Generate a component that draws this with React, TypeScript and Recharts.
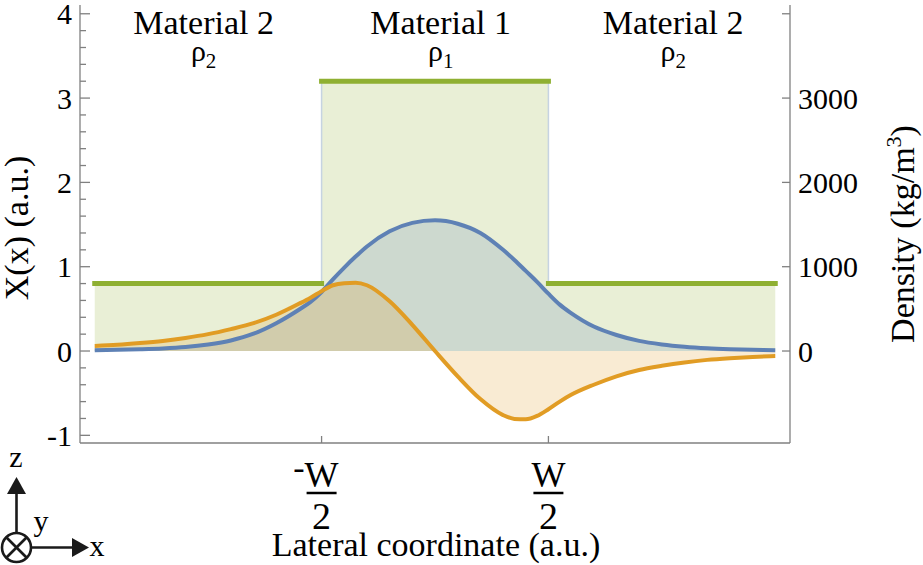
import React from "react";
import { ComposedChart, Area, Line, XAxis, YAxis } from "recharts";

// ---------- data ----------
const lateralPos = [
  -1.5, -1.4, -1.3, -1.2, -1.1, -1.0, -0.9, -0.8, -0.7, -0.6, -0.55, -0.5, -0.45, -0.4, -0.35, -0.3, -0.2, -0.1,
  0.0, 0.1, 0.2, 0.3, 0.35, 0.4, 0.45, 0.5, 0.55, 0.6, 0.7, 0.8, 0.9, 1.0, 1.1, 1.2, 1.3, 1.4, 1.5,
];
const modeBlue = [
  0.01, 0.014, 0.021, 0.031, 0.048, 0.078, 0.125, 0.205, 0.33, 0.49, 0.58, 0.7, 0.85, 0.99, 1.12, 1.24, 1.42, 1.52,
  1.55, 1.51, 1.4, 1.2, 1.08, 0.95, 0.82, 0.68, 0.55, 0.45, 0.29, 0.19, 0.12, 0.078, 0.05, 0.032, 0.021, 0.014, 0.01,
];
const modeOrange = [
  0.06, 0.073, 0.094, 0.12, 0.155, 0.2, 0.26, 0.33, 0.43, 0.56, 0.63, 0.71, 0.78, 0.805, 0.81, 0.78, 0.59, 0.31,
  0.0, -0.3, -0.57, -0.76, -0.805, -0.81, -0.77, -0.69, -0.6, -0.52, -0.4, -0.3, -0.225, -0.175, -0.135, -0.105, -0.085, -0.07, -0.06,
];

// density regions (material 2 | material 1 | material 2)
const regionBounds = [-1.5, -0.5, 0.5, 1.5];
const regionDensity = [800, 3200, 800];
const materialNames = ["Material 2", "Material 1", "Material 2"];
const materialSymbolSub = ["2", "1", "2"];
const materialLabelPos = [-1.02, 0.025, 1.05];

const leftTicks = [
  -1, -0.8, -0.6, -0.4, -0.2, 0, 0.2, 0.4, 0.6, 0.8, 1, 1.2, 1.4, 1.6, 1.8, 2, 2.2, 2.4, 2.6, 2.8, 3, 3.2, 3.4,
  3.6, 3.8, 4,
];
const rightTicks = [0, 1000, 2000, 3000, 4000];
const rightTickLabels = ["0", "1000", "2000", "3000", ""];
const xTickValues = [-0.5, 0.5];
const xTickSign = ["-", ""];
const xTickNum = ["W", "W"];
const xTickDen = ["2", "2"];

const leftLabel = "X(x) (a.u.)";
const xLabel = "Lateral coordinate (a.u.)";

// ---------- derived tables ----------
const modeData = lateralPos.map((u, i) => ({ u, blue: modeBlue[i], orange: modeOrange[i] }));
const densityArea: { u: number; d: number }[] = [];
const densityLine: { u: number; d: number | null }[] = [];
regionDensity.forEach((d, i) => {
  densityArea.push({ u: regionBounds[i], d });
  densityArea.push({ u: regionBounds[i + 1], d });
  if (i > 0) densityLine.push({ u: regionBounds[i], d: null });
  densityLine.push({ u: regionBounds[i], d });
  densityLine.push({ u: regionBounds[i + 1], d });
});

// ---------- style ----------
const W = 923;
const H = 565;
const PLOT_L = 80;
const PLOT_R = 790;
const X_DOMAIN: [number, number] = [-1.565, 1.565];
const BLUE = "#5E81B5";
const ORANGE = "#E19C24";
const GREEN = "#8FB032";
const AXIS = "#808080";
const FONT = "Liberation Serif, DejaVu Serif, Times New Roman, serif";
const TICK_FS = 30;
const fontStyle = { fontFamily: FONT };

const uToPx = (u: number) => PLOT_L + ((u - X_DOMAIN[0]) / (X_DOMAIN[1] - X_DOMAIN[0])) * (PLOT_R - PLOT_L);

const LeftTick = (props: any) => {
  const { x, y, payload } = props;
  const v = payload.value as number;
  const major = Math.abs(v - Math.round(v)) < 1e-6;
  return (
    <g>
      <line x1={x} x2={x + (major ? 10 : 6)} y1={y} y2={y} stroke={AXIS} strokeWidth={1.3} />
      {major && (
        <text x={x - 8} y={y} dy="0.35em" textAnchor="end" style={fontStyle} fontSize={TICK_FS} fill="#000">
          {String(Math.round(v))}
        </text>
      )}
    </g>
  );
};

const RightTick = (props: any) => {
  const { x, y, payload, index } = props;
  const i = rightTicks.indexOf(payload.value);
  return (
    <g>
      <line x1={x - 8} x2={x} y1={y} y2={y} stroke={AXIS} strokeWidth={1.3} />
      <text x={x + 8} y={y} dy="0.35em" textAnchor="start" style={fontStyle} fontSize={TICK_FS} fill="#000">
        {rightTickLabels[i >= 0 ? i : index]}
      </text>
    </g>
  );
};

const BottomTick = (props: any) => {
  const { x, y, payload } = props;
  const i = xTickValues.indexOf(payload.value);
  return (
    <g>
      <line x1={x} x2={x} y1={y} y2={y - 7} stroke={AXIS} strokeWidth={1.3} />
      {xTickSign[i] && (
        <text x={x - 17} y={y + 36} textAnchor="end" style={fontStyle} fontSize={34} fill="#000">
          {xTickSign[i]}
        </text>
      )}
      <text x={x} y={y + 44} textAnchor="middle" style={fontStyle} fontSize={36} fill="#000">
        {xTickNum[i]}
      </text>
      <line x1={x - 15} x2={x + 15} y1={y + 50} y2={y + 50} stroke="#000" strokeWidth={2.5} />
      <text x={x} y={y + 86} textAnchor="middle" style={fontStyle} fontSize={38} fill="#000">
        {xTickDen[i]}
      </text>
    </g>
  );
};

const TopTick = (props: any) => {
  const { x, y } = props;
  return <line x1={x} x2={x} y1={y} y2={y + 7} stroke={AXIS} strokeWidth={1.3} />;
};

export default function App() {
  return (
    <div style={{ position: "absolute", left: 0, top: 0, width: W, height: H, background: "#fff" }}>
      <ComposedChart
        width={W}
        height={H}
        data={modeData}
        margin={{ top: 5, right: 0, bottom: 0, left: 0 }}
      >
        <XAxis
          dataKey="u"
          type="number"
          domain={X_DOMAIN}
          ticks={xTickValues}
          interval={0}
          tick={BottomTick}
          tickLine={false}
          tickSize={0}
          tickMargin={0}
          height={122}
          axisLine={{ stroke: AXIS, strokeWidth: 1.3 }}
        />
        <XAxis
          xAxisId="top"
          orientation="top"
          dataKey="u"
          type="number"
          domain={X_DOMAIN}
          ticks={xTickValues}
          interval={0}
          tick={TopTick}
          tickLine={false}
          tickSize={0}
          tickMargin={0}
          height={0}
          axisLine={{ stroke: AXIS, strokeWidth: 1.3 }}
        />
        <YAxis
          yAxisId="left"
          type="number"
          domain={[-1.091, 4.104]}
          ticks={leftTicks}
          interval={0}
          tick={LeftTick}
          tickLine={false}
          tickSize={0}
          tickMargin={0}
          width={80}
          axisLine={{ stroke: AXIS, strokeWidth: 1.3 }}
          allowDataOverflow
        />
        <YAxis
          yAxisId="right"
          orientation="right"
          type="number"
          domain={[-1091, 4104]}
          ticks={rightTicks}
          interval={0}
          tick={RightTick}
          tickLine={false}
          tickSize={0}
          tickMargin={0}
          width={133}
          axisLine={{ stroke: AXIS, strokeWidth: 1.3 }}
          allowDataOverflow
        />
        <Area
          yAxisId="right"
          data={densityArea}
          dataKey="d"
          type="linear"
          fill={GREEN}
          fillOpacity={0.2}
          stroke="#c6d3e2"
          strokeWidth={1.5}
          isAnimationActive={false}
          dot={false}
          activeDot={false}
        />
        <Area
          yAxisId="left"
          dataKey="blue"
          type="monotone"
          fill={BLUE}
          fillOpacity={0.2}
          stroke="none"
          isAnimationActive={false}
          dot={false}
          activeDot={false}
        />
        <Area
          yAxisId="left"
          dataKey="orange"
          type="monotone"
          fill={ORANGE}
          fillOpacity={0.2}
          stroke="none"
          isAnimationActive={false}
          dot={false}
          activeDot={false}
        />
        <Line
          yAxisId="right"
          data={densityLine}
          dataKey="d"
          type="linear"
          stroke={GREEN}
          strokeWidth={5}
          strokeLinecap="square"
          dot={false}
          activeDot={false}
          isAnimationActive={false}
        />
        <Line
          yAxisId="left"
          dataKey="blue"
          type="monotone"
          stroke={BLUE}
          strokeWidth={4}
          dot={false}
          activeDot={false}
          isAnimationActive={false}
        />
        <Line
          yAxisId="left"
          dataKey="orange"
          type="monotone"
          stroke={ORANGE}
          strokeWidth={4}
          dot={false}
          activeDot={false}
          isAnimationActive={false}
        />
      </ComposedChart>
      <svg
        width={W}
        height={H}
        style={{ position: "absolute", left: 0, top: 0, pointerEvents: "none", fontFamily: FONT }}
      >
        {materialNames.map((name, i) => {
          const cx = uToPx(materialLabelPos[i]);
          return (
            <g key={i}>
              <text x={cx} y={34} textAnchor="middle" fontSize={34} fill="#000">
                {name}
              </text>
              <text x={cx} y={61} textAnchor="middle" fontSize={30} fill="#000">
                ρ
                <tspan fontSize={21} dy={7}>
                  {materialSymbolSub[i]}
                </tspan>
              </text>
            </g>
          );
        })}
        <text transform="translate(28,228) rotate(-90)" textAnchor="middle" fontSize={34} fill="#000">
          {leftLabel}
        </text>
        <text transform="translate(914,234) rotate(-90)" textAnchor="middle" fontSize={34} fill="#000">
          Density (kg/m
          <tspan fontSize={22} dy={-13}>
            3
          </tspan>
          <tspan dy={13}>)</tspan>
        </text>
        <text x={436} y={556} textAnchor="middle" fontSize={34} fill="#000">
          {xLabel}
        </text>
        {/* coordinate system glyph */}
        <g stroke="#1a1a1a" strokeWidth={2.6} fill="none">
          <circle cx={16.5} cy={547.5} r={14.5} />
          <line x1={6.5} y1={537.5} x2={26.5} y2={557.5} />
          <line x1={26.5} y1={537.5} x2={6.5} y2={557.5} />
          <line x1={16.5} y1={533} x2={16.5} y2={492} />
          <line x1={31} y1={547.5} x2={74} y2={547.5} />
        </g>
        <polygon points="16.5,477 7,494 26,494" fill="#1a1a1a" />
        <polygon points="89,547.5 72,538 72,557" fill="#1a1a1a" />
        <text x={16} y={467} textAnchor="middle" fontSize={30} fill="#000">
          z
        </text>
        <text x={41} y={531} textAnchor="middle" fontSize={30} fill="#000">
          y
        </text>
        <text x={97} y={556} textAnchor="middle" fontSize={30} fill="#000">
          x
        </text>
      </svg>
    </div>
  );
}
